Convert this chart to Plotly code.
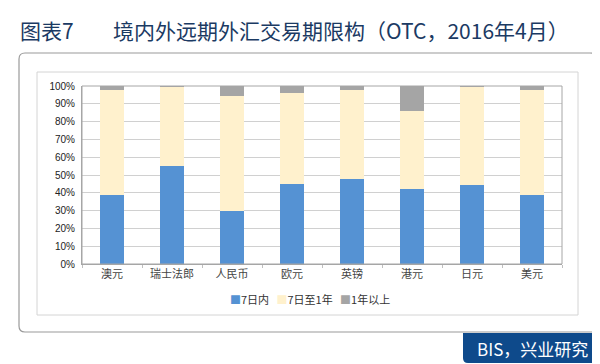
import plotly.graph_objects as go

categories = ["澳元", "瑞士法郎", "人民币", "欧元", "英镑", "港元", "日元", "美元"]
series_names = ["7日内", "7日至1年", "1年以上"]
within_7d = [39, 55, 29.5, 45, 47.5, 42, 44.5, 39]
d7_to_1y = [59, 44.5, 65, 51, 50.5, 44, 55, 58.5]
over_1y = [2, 0.5, 5.5, 4, 2, 14, 0.5, 2.5]
y_ticks = [0, 10, 20, 30, 40, 50, 60, 70, 80, 90, 100]
y_tick_labels = [f"{v}%" for v in y_ticks]

colors = ["#5592d3", "#fff1cd", "#a5a5a5"]

W, H = 600, 364
L, R, T, B = 74, 46, 78, 108
PW, PH = W - L - R, H - T - B


def px(x):
    return (x - L) / PW


def py(y):
    return (H - B - y) / PH


fig = go.Figure()
for name, vals, c in zip(series_names, [within_7d, d7_to_1y, over_1y], colors):
    fig.add_trace(go.Bar(name=name, x=categories, y=vals, marker=dict(color=c, line=dict(width=0)),
                         width=0.4))


def rounded(x0, y0, x1, y1, r, corners=(1, 1, 1, 1)):
    tl, tr, br, bl = [r if c else 0 for c in corners]
    p = []
    p.append(f"M {px(x0 + tl)},{py(y0)}")
    p.append(f"L {px(x1 - tr)},{py(y0)}")
    if tr:
        p.append(f"Q {px(x1)},{py(y0)} {px(x1)},{py(y0 + tr)}")
    p.append(f"L {px(x1)},{py(y1 - br)}")
    if br:
        p.append(f"Q {px(x1)},{py(y1)} {px(x1 - br)},{py(y1)}")
    p.append(f"L {px(x0 + bl)},{py(y1)}")
    if bl:
        p.append(f"Q {px(x0)},{py(y1)} {px(x0)},{py(y1 - bl)}")
    p.append(f"L {px(x0)},{py(y0 + tl)}")
    if tl:
        p.append(f"Q {px(x0)},{py(y0)} {px(x0 + tl)},{py(y0)}")
    p.append("Z")
    return " ".join(p)


shapes = [
    dict(type="path", xref="paper", yref="paper", path=rounded(11, 45, 588, 324, 6),
         line=dict(color="#9a9a9a", width=1.2), fillcolor="rgba(0,0,0,0)", layer="below"),
    dict(type="rect", xref="paper", yref="paper", x0=px(29), x1=px(570), y0=py(64), y1=py(307),
         line=dict(color="#d4d4d4", width=1), fillcolor="rgba(0,0,0,0)", layer="below"),
    dict(type="path", xref="paper", yref="paper", path=rounded(455, 325, 588, 355, 5, (0, 0, 1, 1)),
         line=dict(width=0), fillcolor="#0e4a8b", layer="above"),
    dict(type="rect", xref="paper", yref="paper", x0=0, x1=1, y0=0, y1=1,
         line=dict(color="#a6a6a6", width=1), fillcolor="rgba(0,0,0,0)", layer="above"),
]

legend_text = "&nbsp;&nbsp;&nbsp;".join(
    f"<span style='color:{c}'>■</span>{n}" for n, c in zip(series_names, colors)
)

annotations = [
    dict(text="图表7", xref="paper", yref="paper", x=px(10), y=py(22), xanchor="left", yanchor="middle",
         showarrow=False, font=dict(family="Noto Sans CJK SC", size=21, color="#1b3a63")),
    dict(text="境内外远期外汇交易期限构（OTC，2016年4月）", xref="paper", yref="paper", x=px(103), y=py(22),
         xanchor="left", yanchor="middle", showarrow=False,
         font=dict(family="Noto Sans CJK SC", size=21, color="#1b3a63")),
    dict(text="BIS，兴业研究", xref="paper", yref="paper", x=px(582), y=py(340), xanchor="right",
         yanchor="middle", showarrow=False, font=dict(family="Noto Sans CJK SC", size=17, color="#ffffff")),
    dict(text=legend_text, xref="paper", yref="paper", x=px(302), y=py(291), xanchor="center",
         yanchor="middle", showarrow=False,
         font=dict(family="Noto Sans CJK SC", size=11, color="#333333")),
]

fig.update_layout(
    width=W, height=H,
    margin=dict(l=L, r=R, t=T, b=B, pad=0),
    barmode="stack",
    paper_bgcolor="white", plot_bgcolor="white",
    showlegend=False,
    shapes=shapes,
    annotations=annotations,
    xaxis=dict(tickfont=dict(family="Noto Sans CJK SC", size=11, color="#444444"),
               showline=True, linecolor="#a6a6a6", ticks="outside", tickson="boundaries",
               ticklen=3, tickcolor="#c0c0c0", showgrid=False, fixedrange=True),
    yaxis=dict(range=[0, 100], tickvals=y_ticks, ticktext=y_tick_labels,
               tickfont=dict(family="Liberation Sans", size=10, color="#222222"),
               showgrid=True, gridcolor="#d0d0d0", gridwidth=1, showline=True, linecolor="#a6a6a6",
               ticks="", ticklabelstandoff=4, zeroline=False, fixedrange=True),
    bargap=0.6,
)

fig.write_html("out.html")
